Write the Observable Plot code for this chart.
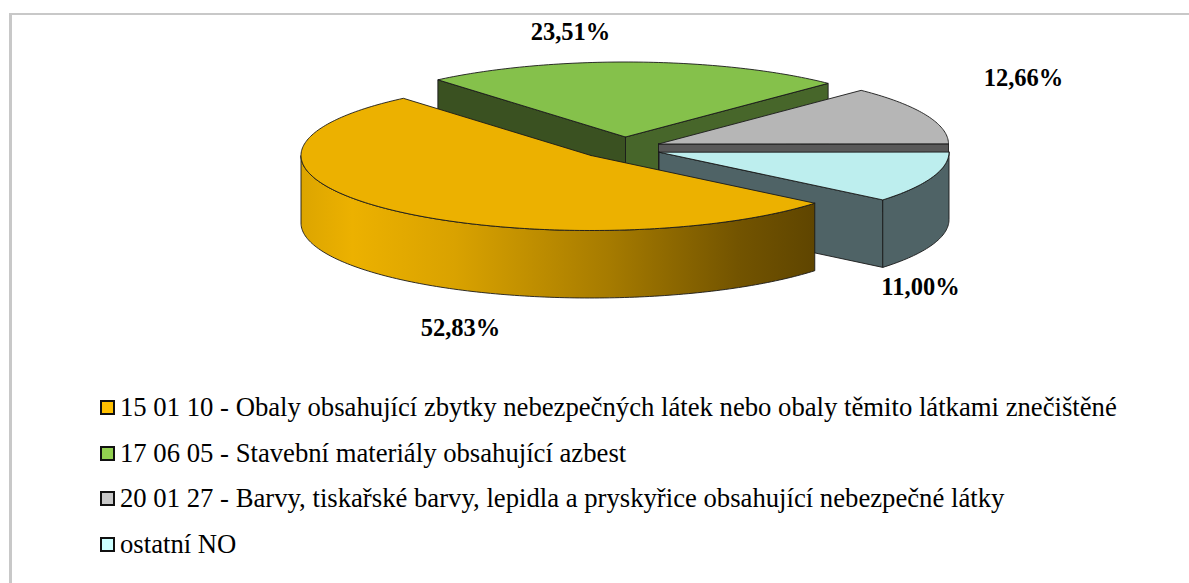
<!DOCTYPE html>
<html><head><meta charset="utf-8">
<script src="https://cdn.jsdelivr.net/npm/d3@7"></script>
<script src="https://cdn.jsdelivr.net/npm/@observablehq/plot@0.6"></script>
<style>
html,body{margin:0;padding:0;background:#fff;}
#frame{position:absolute;left:9px;top:13px;right:0;bottom:0;border-top:2px solid #c8c8c8;border-left:3px solid #c8c8c8;pointer-events:none;z-index:2;}
#legend{position:absolute;left:100px;top:385px;font-family:"Liberation Serif",serif;font-size:26.7px;color:#000;z-index:3;}
.row{display:flex;align-items:center;height:45.5px;white-space:nowrap;}
.sw{box-sizing:border-box;width:15px;height:15px;border:2px solid #111;margin-right:5px;flex:none;}
</style></head>
<body>
<div id="frame"></div>
<div id="chart"></div>
<div id="legend"></div>
<script>
// data
const categories = [
  "15 01 10 - Obaly obsahující zbytky nebezpečných látek nebo obaly těmito látkami znečištěné",
  "17 06 05 - Stavební materiály obsahující azbest",
  "20 01 27 - Barvy, tiskařské barvy, lepidla a pryskyřice obsahující nebezpečné látky",
  "ostatní NO"
];
const shares = [52.83, 23.51, 12.66, 11.00];
const legendColors = ["#ffc000", "#92d050", "#c8c8c8", "#ccffff"];
const topColors = ["#ecb100", "#85c14b", "#b6b6b6", "#bdeeee"];

// layout
const W = 1189, H = 380;
const rx = 290, ry = 75, depth = 67.5, startDeg = 39.5;
const centers = [[590.5,155],[625,136.5],[658,143.5],[658.5,151.7]];
const labelSpots = [[460,328],[570,32],[1023,78],[920,287]];
const outline = "#1a1a1a";

// slice angles from the values
let acc = startDeg;
const slices = shares.map((v,i)=>{
  const a0 = acc, a1 = acc + v*3.6; acc = a1;
  return {i, a0, a1, cx:centers[i][0], cy:centers[i][1]};
});
const pt = (s,deg,dz=0)=>{
  const t = deg*Math.PI/180;
  return {x:s.cx+rx*Math.cos(t), y:s.cy+ry*Math.sin(t)+dz};
};
const arc = (s,a,b,dz=0)=>{
  const n = Math.ceil(Math.abs(b-a)), out=[];
  for(let k=0;k<=n;k++) out.push(pt(s,a+(b-a)*k/n,dz));
  return out;
};
const closed = p=>[...p,p[0]];
const topFace = s=>closed([{x:s.cx,y:s.cy},...arc(s,s.a0,s.a1)]);
const radial = (s,deg)=>{
  const e = pt(s,deg), f = pt(s,deg,depth);
  return closed([{x:s.cx,y:s.cy},e,f,{x:s.cx,y:s.cy+depth}]);
};
const rim = (s,a,b)=>closed([...arc(s,a,b),...arc(s,b,a,depth)]);

const [yel,gre,gry,cya] = slices;
const face = (points,fill,sw=0.9)=>Plot.line(points,{x:"x",y:"y",fill,stroke:outline,strokeWidth:sw,curve:"linear"});

const defs = ()=>{
  const d = d3.create("svg:defs");
  const g = d.append("linearGradient").attr("id","sideGold").attr("x1",0).attr("x2",1).attr("y1",0).attr("y2",0);
  [[0,"#dca500"],[0.1,"#ecb100"],[0.3,"#d9a200"],[0.6,"#a67b00"],[0.85,"#735400"],[1,"#5f4500"]]
    .forEach(([o,c])=>g.append("stop").attr("offset",o).attr("stop-color",c));
  return d.node();
};

const labels = shares.map((v,i)=>({
  text:v.toFixed(2).replace(".",",")+"%", x:labelSpots[i][0], y:labelSpots[i][1]
}));

const plot = Plot.plot({
  width:W, height:H, margin:0,
  x:{domain:[0,W],range:[0,W],axis:null},
  y:{domain:[0,H],range:[0,H],axis:null},
  marks:[
    defs,
    face(radial(gre,gre.a0),"#3a5121"),
    face(radial(gre,gre.a1),"#47662a"),
    face(topFace(gre),topColors[1]),
    face(radial(gry,gry.a1),"#595959"),
    face(topFace(gry),topColors[2]),
    face(radial(cya,cya.a1),"#4f6366"),
    face(rim(cya,cya.a0,cya.a1),"#4f6366"),
    face(topFace(cya),topColors[3]),
    face(rim(yel,yel.a0,180),"url(#sideGold)"),
    face(topFace(yel),topColors[0]),
    Plot.text(labels,{x:"x",y:"y",text:"text",fontFamily:"Liberation Serif",fontWeight:"bold",fontSize:24.5,fill:"#000"})
  ]
});
document.getElementById("chart").append(plot);

const leg = d3.select("#legend");
categories.forEach((c,i)=>{
  const r = leg.append("div").attr("class","row");
  r.append("span").attr("class","sw").style("background",legendColors[i]);
  r.append("span").text(c);
});
</script>
</body></html>
